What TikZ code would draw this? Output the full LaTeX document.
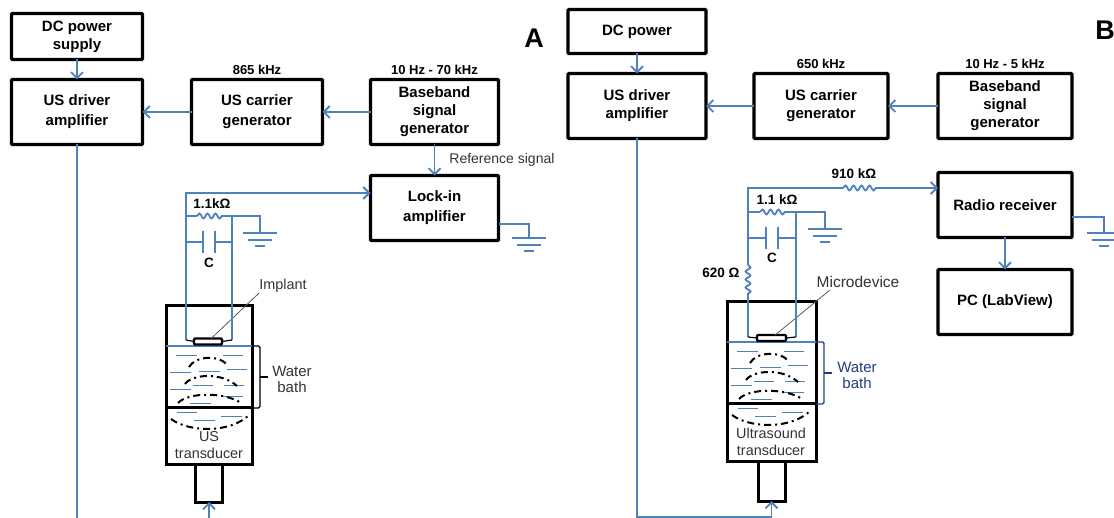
\documentclass[tikz,border=0pt]{standalone}
\usepackage{fontspec}
\setmainfont{Liberation Sans}
\definecolor{WireBlue}{HTML}{4F81BD}
\definecolor{BathNavy}{HTML}{1F3F7F}
\definecolor{TextGray}{HTML}{333333}
\usetikzlibrary{arrows.meta, positioning, calc, decorations.pathmorphing}
\tikzset{
  % Box styles
  blockbox/.style={rectangle, rounded corners=1pt, draw=black, line width=3.4pt, outer sep=0pt, minimum width=131pt, minimum height=65pt, font=\fontsize{15}{18}\selectfont\bfseries, align=center, inner sep=0pt},
  wideleading/.style={font=\fontsize{15}{20}\selectfont\bfseries},
  freqlabel/.style={font=\fontsize{13}{15}\selectfont\bfseries, inner sep=0pt},
  valuelabel/.style={font=\fontsize{13.5}{15}\selectfont\bfseries, inner sep=0pt},
  notelabel/.style={font=\fontsize{14.4}{17}\selectfont, text=TextGray, align=center, inner sep=0pt},
  panellabel/.style={font=\fontsize{27}{30}\selectfont\bfseries, inner sep=0pt},
  % Line styles
  wire/.style={WireBlue, line width=1.8pt},
  arrow/.style={wire, -{Straight Barb[length=6pt,width=12pt]}},
  resistor/.style={wire, decorate, decoration={snake, segment length=8pt, amplitude=2.5pt}},
  tankline/.style={draw=black, line width=3pt},
  waveline/.style={black, line width=2pt, dash pattern=on 7pt off 4pt on 2pt off 4pt},
  ripple/.style={WireBlue, line width=0.9pt},
  % Water bath contents, drawn at the coordinates of panel A
  pics/waterfill/.style={code={
    \foreach \xa/\xb/\ya in {176/197/355, 223/243/355, 170/191/372, 199/220/371, 227/247/369,
      170/191/389, 193/213/385, 224/244/385, 222/243/396, 190/211/403, 177/197/412, 194/215/420, 221/242/416}
      \draw[ripple] (\xa,\ya) -- (\xb,\ya);
    \draw[waveline] (189,367) .. controls (195,356) and (220,354) .. (228,366);
    \draw[waveline] (185,384) .. controls (192,374) and (222,372) .. (237,386);
    \draw[waveline] (178,403) .. controls (188,392) and (225,392) .. (241,403);
    \draw[waveline] (171,419) .. controls (190,433) and (232,433) .. (250,414);
  }}
}
\begin{document}
\begin{tikzpicture}[x=1pt, y=-1pt]
  \useasboundingbox (0,0) rectangle (1114,518);

  % Panel A blocks
  \node[blockbox, minimum height=46pt] (dcA) at (77,36.5) {DC power\\supply};
  \node[blockbox, wideleading, below=20pt of dcA] (driverA) {US driver\\amplifier};
  \node[blockbox, wideleading, right=49pt of driverA] (carrierA) {US carrier\\generator};
  \node[blockbox, minimum width=128pt, right=48pt of carrierA] (baseA) {Baseband\\signal\\generator};
  \node[blockbox, wideleading, minimum width=128pt, below=31pt of baseA] (lockA) {Lock-in\\amplifier};

  % Panel B blocks
  \node[blockbox, minimum width=138pt, minimum height=44pt] (dcB) at (637,31.5) {DC power};
  \node[blockbox, minimum width=138pt, below=20pt of dcB] (driverB) {US driver\\amplifier};
  \node[blockbox, minimum width=134pt, right=48pt of driverB] (carrierB) {US carrier\\generator};
  \node[blockbox, minimum width=134pt, right=50pt of carrierB] (baseB) {Baseband\\signal\\generator};
  \node[blockbox, minimum width=134pt, below=34pt of baseB] (radioB) {Radio receiver};
  \node[blockbox, minimum width=134pt, below=32pt of radioB] (pcB) {PC (LabView)};

  % Panel and frequency labels
  \node[panellabel] (letterA) at (534,38) {A};
  \node[panellabel] (letterB) at (1105,30) {B};
  \node[freqlabel, above=5pt of carrierA] (freqcA) {865 kHz};
  \node[freqlabel, above=5pt of baseA] (freqbA) {10 Hz - 70 kHz};
  \node[freqlabel, above=5pt of carrierB] (freqcB) {650 kHz};
  \node[freqlabel, above=5pt of baseB] (freqbB) {10 Hz - 5 kHz};

  % Block connections
  \draw[arrow] (dcA) -- (driverA);
  \draw[arrow] (carrierA) -- (driverA);
  \draw[arrow] (baseA) -- (carrierA);
  \draw[arrow] (baseA) -- (lockA) node[midway, right=14pt, font=\fontsize{14}{16}\selectfont, text=TextGray, inner sep=0pt] (refA) {Reference signal};
  \draw[arrow] (dcB) -- (driverB);
  \draw[arrow] (carrierB) -- (driverB);
  \draw[arrow] (baseB) -- (carrierB);
  \draw[arrow] (radioB) -- (pcB);

  % Panel A tank
  \node[draw=black, line width=3pt, minimum width=86pt, minimum height=158pt, outer sep=0pt, inner sep=0pt] (tankA) at (209,385) {};
  \node[draw=black, line width=3pt, minimum width=27pt, minimum height=38pt, outer sep=0pt, inner sep=0pt, below=0pt of tankA] (stemA) {};
  \coordinate (bathtlA) at (166,346);
  \coordinate (bathtrA) at (252,346);
  \coordinate (bathblA) at (166,408);
  \coordinate (bathbrA) at (252,408);
  \draw[tankline] (bathblA) -- (bathbrA);
  \draw[wire, line width=2.2pt] (bathtlA) -- (bathtrA);
  \pic (fillA) at (0,0) {waterfill};
  \node[draw=black, fill=white, line width=2.2pt, rounded corners=1pt, minimum width=28pt, minimum height=6pt, outer sep=0pt, inner sep=0pt] (implantA) at (208,341.5) {};
  \node[notelabel] (xducerA) at (209,445.5) {US\\transducer};
  \node[notelabel, font=\fontsize{15}{16}\selectfont] (bathA) at (292,379) {Water\\bath};
  \node[notelabel] (implantlabelA) at (283,286) {Implant};
  \draw[gray!70!black, line width=0.8pt] (implantlabelA.south west) -- (implantA);
  \draw[black, line width=1.4pt, rounded corners=1.5pt] (bathtrA) -- (260,346) -- (260,408) -- (bathbrA);
  \coordinate (bracetickA) at (260,377);
  \coordinate (braceendA) at (268,377);
  \draw[black, line width=1.4pt] (bracetickA) -- (braceendA);

  % Panel A circuit
  \coordinate (wiretopA) at (186,193);
  \coordinate (rinA) at (186,216);
  \coordinate (rstartA) at (197,216);
  \coordinate (rendA) at (225,216);
  \coordinate (rnodeA) at (232,216);
  \coordinate (rgndA) at (260,216);
  \coordinate (capinA) at (186,242);
  \coordinate (capleftA) at (203,242);
  \coordinate (caprightA) at (215,242);
  \coordinate (capoutA) at (232,242);
  \coordinate (gndtopA) at (260,233);
  \coordinate (leadlA) at (186,340);
  \coordinate (leadrA) at (232,340);
  \coordinate (lockinA) at (lockA.west |- wiretopA);
  \draw[arrow] (leadlA) -- (wiretopA) -- (lockinA);
  \draw[wire] (rinA) -- (rstartA);
  \draw[resistor] (rstartA) -- (rendA);
  \draw[wire] (rendA) -- (rgndA) -- (gndtopA);
  \draw[wire] (rnodeA) -- (leadrA);
  \draw[wire] (capinA) -- (capleftA) (caprightA) -- (capoutA);
  \draw[wire] ($(capleftA)+(0,-11)$) -- ($(capleftA)+(0,11)$);
  \draw[wire] ($(caprightA)+(0,-11)$) -- ($(caprightA)+(0,11)$);
  \draw[wire] ($(gndtopA)+(-17,0)$) -- ($(gndtopA)+(17,0)$);
  \draw[wire] ($(gndtopA)+(-12,7)$) -- ($(gndtopA)+(12,7)$);
  \draw[wire] ($(gndtopA)+(-5,13)$) -- ($(gndtopA)+(5,13)$);
  \draw[black, line width=1.2pt] (leadlA) -- (implantA.west) (leadrA) -- (implantA.east);
  \node[valuelabel] (r1A) at (212,204) {1.1kΩ};
  \node[valuelabel] (capA) at (209,263) {C};

  % Lock-in ground
  \coordinate (lockgndA) at (529,224);
  \coordinate (lockgtopA) at (529,238);
  \draw[wire] (lockA.east |- lockgndA) -- (lockgndA) -- (lockgtopA);
  \draw[wire] ($(lockgtopA)+(-17,0)$) -- ($(lockgtopA)+(17,0)$);
  \draw[wire] ($(lockgtopA)+(-12,7)$) -- ($(lockgtopA)+(12,7)$);
  \draw[wire] ($(lockgtopA)+(-5,13)$) -- ($(lockgtopA)+(5,13)$);

  % Panel A drive lines
  \coordinate (offdriveA) at (driverA.south |- 0,518);
  \coordinate (offstemA) at (stemA.south |- 0,518);
  \draw[wire] (driverA.south) -- (offdriveA);
  \draw[arrow] (offstemA) -- (stemA.south);

  % Panel B tank
  \node[draw=black, line width=3pt, minimum width=89pt, minimum height=159pt, outer sep=0pt, inner sep=0pt] (tankB) at (771.5,381.5) {};
  \node[draw=black, line width=3pt, minimum width=27pt, minimum height=40pt, outer sep=0pt, inner sep=0pt, below=0pt of tankB] (stemB) {};
  \coordinate (bathtlB) at (727,342);
  \coordinate (bathtrB) at (816,342);
  \coordinate (bathblB) at (727,404);
  \coordinate (bathbrB) at (816,404);
  \draw[tankline] (bathblB) -- (bathbrB);
  \draw[wire, line width=2.2pt] (bathtlB) -- (bathtrB);
  \pic (fillB) at (561,-4) {waterfill};
  \node[draw=black, fill=white, line width=2.2pt, rounded corners=1pt, minimum width=29pt, minimum height=6pt, outer sep=0pt, inner sep=0pt] (deviceB) at (771.5,338) {};
  \node[notelabel] (xducerB) at (771,441.5) {Ultrasound\\transducer};
  \node[notelabel, font=\fontsize{15}{16}\selectfont, text=BathNavy] (bathB) at (857,375) {Water\\bath};
  \node[notelabel, font=\fontsize{15.5}{17}\selectfont] (devicelabelB) at (858,282) {Microdevice};
  \coordinate (deviceleaderB) at (830,290);
  \draw[gray!70!black, line width=0.8pt] (deviceleaderB) -- (deviceB);
  \draw[BathNavy, line width=1.4pt, rounded corners=1.5pt] (bathtrB) -- (824,342) -- (824,404) -- (bathbrB);
  \coordinate (bracetickB) at (824,373);
  \coordinate (braceendB) at (832,373);
  \draw[BathNavy, line width=1.4pt] (bracetickB) -- (braceendB);

  % Panel B circuit
  \coordinate (wiretopB) at (748,188);
  \coordinate (r9startB) at (843,188);
  \coordinate (r9endB) at (878,188);
  \coordinate (rinB) at (748,212);
  \coordinate (rstartB) at (760,212);
  \coordinate (rendB) at (787,212);
  \coordinate (rnodeB) at (796,212);
  \coordinate (rgndB) at (825,212);
  \coordinate (gndtopB) at (825,229);
  \coordinate (capinB) at (748,238);
  \coordinate (capleftB) at (766,238);
  \coordinate (caprightB) at (778,238);
  \coordinate (capoutB) at (796,238);
  \coordinate (r6startB) at (748,265);
  \coordinate (r6endB) at (748,295);
  \coordinate (leadlB) at (748,337);
  \coordinate (leadrB) at (796,337);
  \draw[wire] (r6startB) -- (wiretopB) -- (r9startB);
  \draw[resistor] (r9startB) -- (r9endB);
  \draw[arrow] (r9endB) -- (radioB.west |- r9endB);
  \draw[wire] (rinB) -- (rstartB);
  \draw[resistor] (rstartB) -- (rendB);
  \draw[wire] (rendB) -- (rgndB) -- (gndtopB);
  \draw[wire] (rnodeB) -- (leadrB);
  \draw[wire] (capinB) -- (capleftB) (caprightB) -- (capoutB);
  \draw[wire] ($(capleftB)+(0,-11)$) -- ($(capleftB)+(0,11)$);
  \draw[wire] ($(caprightB)+(0,-11)$) -- ($(caprightB)+(0,11)$);
  \draw[resistor] (r6startB) -- (r6endB);
  \draw[wire] (r6endB) -- (leadlB);
  \draw[wire] ($(gndtopB)+(-17,0)$) -- ($(gndtopB)+(17,0)$);
  \draw[wire] ($(gndtopB)+(-12,7)$) -- ($(gndtopB)+(12,7)$);
  \draw[wire] ($(gndtopB)+(-5,13)$) -- ($(gndtopB)+(5,13)$);
  \draw[black, line width=1.2pt] (leadlB) -- (deviceB.west) (leadrB) -- (deviceB.east);
  \node[valuelabel] (r9B) at (854,174) {910 kΩ};
  \node[valuelabel] (r1B) at (777,200) {1.1 kΩ};
  \node[valuelabel] (r6B) at (721,273) {620 Ω};
  \node[valuelabel] (capB) at (772,258) {C};

  % Radio ground
  \coordinate (radiogndB) at (1104,217);
  \coordinate (radiogtopB) at (1104,233);
  \draw[wire] (radioB.east |- radiogndB) -- (radiogndB) -- (radiogtopB);
  \draw[wire] ($(radiogtopB)+(-17,0)$) -- ($(radiogtopB)+(17,0)$);
  \draw[wire] ($(radiogtopB)+(-12,7)$) -- ($(radiogtopB)+(12,7)$);
  \draw[wire] ($(radiogtopB)+(-5,13)$) -- ($(radiogtopB)+(5,13)$);

  % Panel B drive line
  \coordinate (drivecornerB) at (driverB.south |- 0,517);
  \coordinate (stemcornerB) at (stemB.south |- 0,517);
  \draw[arrow] (driverB.south) -- (drivecornerB) -- (stemcornerB) -- (stemB.south);
\end{tikzpicture}
\end{document}
